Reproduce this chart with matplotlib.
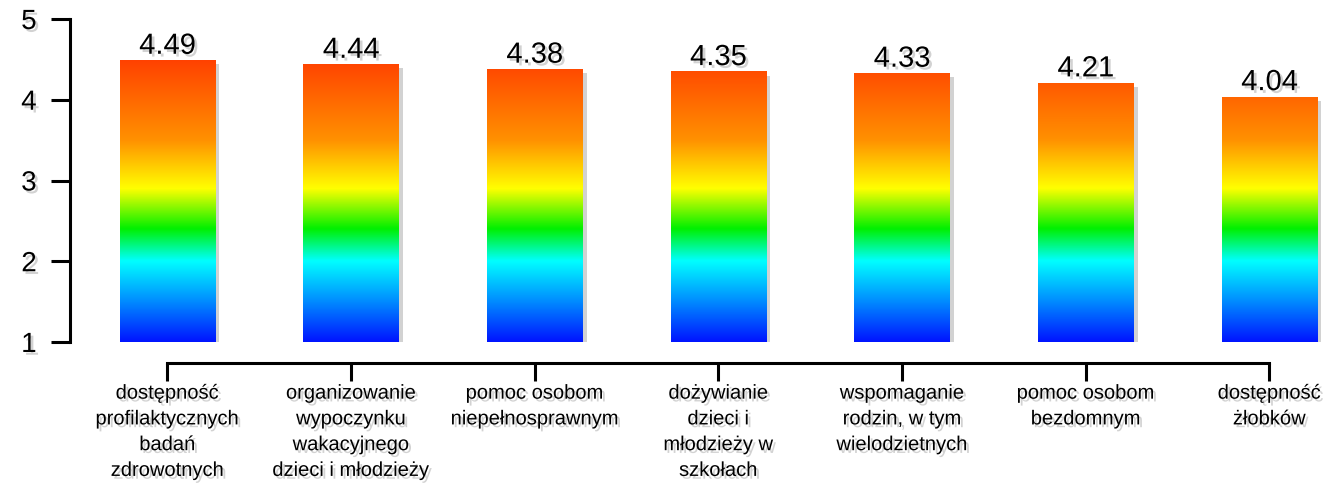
import numpy as np
import matplotlib
matplotlib.use("Agg")
import matplotlib.pyplot as plt
from matplotlib.colors import LinearSegmentedColormap
import matplotlib.patheffects as pe

categories = [
    "dostępność\nprofilaktycznych\nbadań\nzdrowotnych",
    "organizowanie\nwypoczynku\nwakacyjnego\ndzieci i młodzieży",
    "pomoc osobom\nniepełnosprawnym",
    "dożywianie\ndzieci i\nmłodzieży w\nszkołach",
    "wspomaganie\nrodzin, w tym\nwielodzietnych",
    "pomoc osobom\nbezdomnym",
    "dostępność\nżłobków",
]
values = [4.49, 4.44, 4.38, 4.35, 4.33, 4.21, 4.04]
value_labels = ["4.49", "4.44", "4.38", "4.35", "4.33", "4.21", "4.04"]
yticks = [1, 2, 3, 4, 5]

plt.rcParams['font.family'] = ['Liberation Sans', 'DejaVu Sans']

fig = plt.figure(figsize=(13.41, 4.89), dpi=100)
ax = fig.add_axes([70/1341, 1-343/489, (1330-70)/1341, 323/489])

for s in ['top', 'right']:
    ax.spines[s].set_visible(False)
ax.spines['left'].set_linewidth(2.2)
ax.spines['bottom'].set_linewidth(2.2)
ax.spines['bottom'].set_position(('outward', 15))

# colormap in data space from 1 to 5
stops = [
    (0.000, (0/255, 20/255, 255/255)),
    (0.125, (0/255, 140/255, 255/255)),
    (0.250, (0/255, 255/255, 255/255)),
    (0.350, (0/255, 240/255, 0/255)),
    (0.475, (255/255, 255/255, 0/255)),
    (0.625, (255/255, 145/255, 0/255)),
    (0.875, (255/255, 65/255, 0/255)),
    (1.000, (255/255, 40/255, 0/255)),
]
cmap = LinearSegmentedColormap.from_list("grad", stops)
grad = np.linspace(0, 1, 512).reshape(-1, 1)

x = np.arange(len(values))
w = 0.52
shadow = [pe.withSimplePatchShadow(offset=(3, -3), shadow_rgbFace='gray', alpha=0.35)]
bars = ax.bar(x, np.array(values) - 1, bottom=1, width=w, color='white',
              edgecolor='none', zorder=2)
for b in bars:
    b.set_path_effects(shadow)
    x0 = b.get_x()
    im = ax.imshow(grad, extent=[x0, x0 + w, 1, 5], origin='lower', cmap=cmap,
                   aspect='auto', zorder=3, interpolation='bilinear')
    im.set_clip_path(b)

txt_shadow = [pe.withSimplePatchShadow(offset=(2, -2), shadow_rgbFace='gray', alpha=0.35)]
for xi, v, lab in zip(x, values, value_labels):
    ax.text(xi, v + 0.005, lab, ha='center', va='bottom', fontsize=21,
            color='black', zorder=4, path_effects=txt_shadow)

ax.set_xlim(-0.53, 6.33)
ax.set_ylim(1, 5)
ax.spines['left'].set_bounds(1, 5)
ax.spines['bottom'].set_bounds(0, 6)
ax.set_yticks(yticks)
ax.set_xticks(x)
ax.set_xticklabels(categories)
ax.tick_params(axis='y', length=14, width=2.2, pad=10, labelsize=20)
ax.tick_params(axis='x', length=13, width=2.2, pad=2, labelsize=14.5)
for t in ax.get_xticklabels():
    t.set_path_effects(txt_shadow)
    t.set_linespacing(1.45)
for t in ax.get_yticklabels():
    t.set_path_effects(txt_shadow)
ax.patch.set_alpha(0)

fig.savefig("out.png", dpi=100)
